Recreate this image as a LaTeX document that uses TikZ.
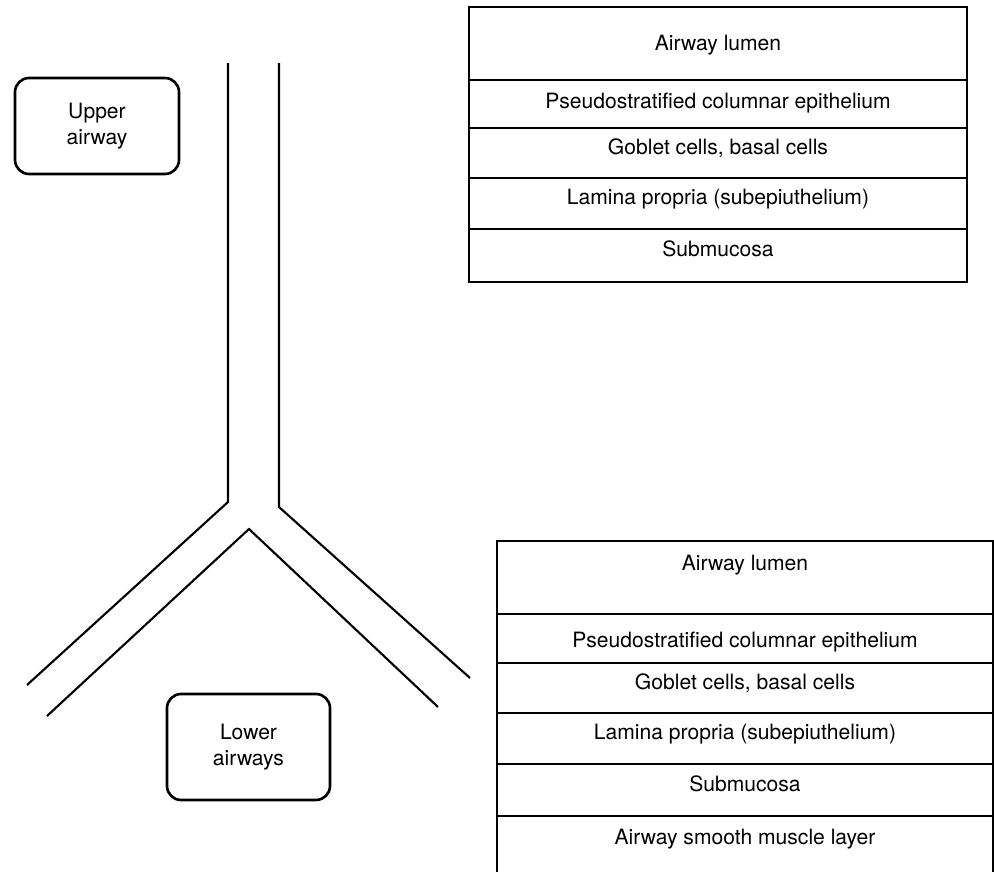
\documentclass[tikz,border=0pt]{standalone}
\usepackage{fontspec}
\setmainfont{TeX Gyre Heros}
\usetikzlibrary{positioning}

\begin{document}
\begin{tikzpicture}[
        x=0.02cm, y=-0.02cm,
        node distance=0pt,
        every node/.style={font=\fontsize{12}{14.8}\selectfont},
        layer/.style={rectangle, draw, line width=1.3pt, inner sep=0pt, outer sep=0pt, minimum width=9.96cm, text height=0.32cm, text depth=0.26cm, anchor=north},
        region/.style={rectangle, draw, rounded corners=0.28cm, line width=1.5pt, align=center, inner sep=0pt},
        wall/.style={line width=1.2pt}
    ]
        \useasboundingbox (0,0) rectangle (994,872);
        \clip (0,0) rectangle (994,872);

        % Upper airway layers
        \node (u1) [layer, minimum height=1.46cm, text depth=0.04cm] at (718,7) {Airway lumen};
        \node (u2) [layer, minimum height=0.96cm, text depth=0.14cm, below=of u1] {Pseudostratified columnar epithelium};
        \node (u3) [layer, minimum height=1.0cm, below=of u2] {Goblet cells, basal cells};
        \node (u4) [layer, minimum height=1.02cm, below=of u3] {Lamina propria (subepiuthelium)};
        \node (u5) [layer, minimum height=1.06cm, below=of u4] {Submucosa};

        % Lower airway layers
        \node (l1) [layer, minimum width=9.92cm, minimum height=1.46cm, text depth=0.6cm] at (745,541) {Airway lumen};
        \node (l2) [layer, minimum width=9.92cm, minimum height=0.98cm, text height=0.4cm, text depth=0.04cm, below=of l1] {Pseudostratified columnar epithelium};
        \node (l3) [layer, minimum width=9.92cm, minimum height=1.0cm, below=of l2] {Goblet cells, basal cells};
        \node (l4) [layer, minimum width=9.92cm, minimum height=1.02cm, below=of l3] {Lamina propria (subepiuthelium)};
        \node (l5) [layer, minimum width=9.92cm, minimum height=1.04cm, below=of l4] {Submucosa};
        \node (l6) [layer, minimum width=9.92cm, minimum height=1.4cm, text depth=0.58cm, below=of l5] {Airway smooth muscle layer};

        % Regions
        \node (upper) [region, minimum width=3.28cm, minimum height=1.92cm] at (97,126) {Upper\\airway};
        \node (lower) [region, minimum width=3.26cm, minimum height=2.12cm] at (248.5,747) {Lower\\airways};

        % Airway walls
        \draw [wall] (228,63) -- (228,502) -- (27,685);
        \draw [wall] (279,63) -- (279,507) -- (470,678);
        \draw [wall] (47,716) -- (249,529) -- (438,707);
\end{tikzpicture}
\end{document}
